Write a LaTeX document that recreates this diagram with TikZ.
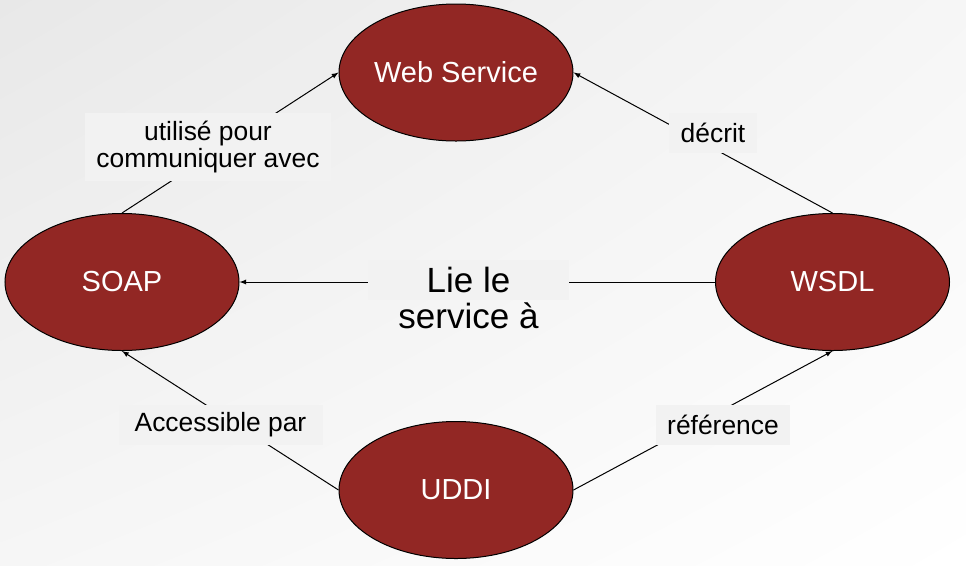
\documentclass[tikz,border=0pt]{standalone}
\usepackage{fontspec}
\setmainfont{Liberation Sans}
\usetikzlibrary{shapes.geometric,shadings}
\definecolor{wsred}{RGB}{146,39,36}
\definecolor{lblgray}{RGB}{242,242,242}

\begin{document}
\begin{tikzpicture}[x=0.75pt,y=-0.75pt,every path/.style={>=latex,line width=0.75pt},
  proto/.style={draw,ellipse,fill=wsred,text=white,minimum width=175.5pt,minimum height=102.75pt,inner sep=0pt,font=\fontsize{21.75}{26}\selectfont},
  lbl/.style={fill=lblgray,inner sep=0pt,align=center,font=\fontsize{19.8}{20}\selectfont},
  big/.style={font=\fontsize{26.25}{26.25}\selectfont}]
\shade[upper left=gray!18,upper right=gray!7,lower left=gray!7,lower right=white] (0,0) rectangle (966,565);
\useasboundingbox (0,0) rectangle (966,565);
\node[proto]     (ws)   at (456,72.5)  {Web Service};
\node[proto]     (soap) at (122,282)   {SOAP};
\node[proto]     (wsdl) at (832.5,282) {WSDL};
\node[proto]     (uddi) at (456,490)   {UDDI};
\draw[->]  (soap.north) -- (ws.west);
\draw[->]  (wsdl.north) -- (ws.east);
\draw[->]  (wsdl.west)  -- (soap.east);
\draw[->]  (uddi.west)  -- (soap.south);
\draw[->]  (uddi.east)  -- (wsdl.south);
\node[lbl,minimum width=184.5pt,minimum height=51pt] (uses)      at (208,146.7) {utilisé pour\\communiquer avec};
\node[lbl,minimum width=66pt,minimum height=30pt]    (describes) at (713,132.7) {décrit};
\node[lbl,minimum width=153pt,minimum height=30pt]   (access)    at (220.5,425) {Accessible par};
\node[lbl,minimum width=100.5pt,minimum height=30pt] (refers)    at (723,425)   {référence};
\node[lbl,big,minimum width=150.75pt,minimum height=30pt] (binds) at (468.5,280) {Lie le};
\node[big,anchor=base,inner sep=0pt] (bindsrest) at (468.5,328.3) {service à};
\end{tikzpicture}
\end{document}
